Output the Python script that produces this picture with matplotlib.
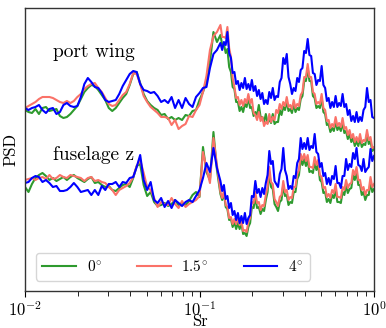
import matplotlib
matplotlib.use("Agg")
from matplotlib import pyplot as plt

plt.rcParams['font.family'] = 'serif'
plt.rcParams['font.serif'] = ['cmr10', 'DejaVu Serif']
plt.rcParams['mathtext.fontset'] = 'cm'
plt.rcParams['axes.formatter.use_mathtext'] = True

# Strouhal number grid
sr = [0.01000, 0.01047, 0.01096, 0.01148, 0.01202, 0.01259, 0.01318, 0.01380, 0.01445, 0.01514,
      0.01585, 0.01660, 0.01738, 0.01820, 0.01905, 0.01995, 0.02089, 0.02188, 0.02291, 0.02399,
      0.02512, 0.02630, 0.02754, 0.02884, 0.03020, 0.03162, 0.03311, 0.03467, 0.03631, 0.03802,
      0.03981, 0.04169, 0.04365, 0.04571, 0.04786, 0.05012, 0.05248, 0.05495, 0.05754, 0.06026,
      0.06310, 0.06607, 0.06918, 0.07244, 0.07586, 0.07943, 0.08318, 0.08710, 0.09120, 0.09550,
      0.1000, 0.1047, 0.1096, 0.1148, 0.1202, 0.1259, 0.1318, 0.1380, 0.1445, 0.1514,
      0.1585, 0.1660, 0.1738, 0.1820, 0.1905, 0.1995, 0.2089, 0.2188, 0.2291, 0.2399,
      0.2512, 0.2630, 0.2754, 0.2884, 0.3020, 0.3162, 0.3311, 0.3467, 0.3631, 0.3802,
      0.3981, 0.4169, 0.4365, 0.4571, 0.4786, 0.5012, 0.5248, 0.5495, 0.5754, 0.6026,
      0.6310, 0.6607, 0.6918, 0.7244, 0.7586, 0.7943, 0.8318, 0.8710, 0.9120, 0.9550,
      1.000]
# extra in-between bins at high Sr (spectra get noisy there)
sr_mid = [0.1349, 0.1413, 0.1479, 0.1549, 0.1622, 0.1698, 0.1778, 0.1862, 0.1950, 0.2042,
          0.2138, 0.2239, 0.2344, 0.2455, 0.2570, 0.2692, 0.2818, 0.2951, 0.3090, 0.3236,
          0.3388, 0.3548, 0.3715, 0.3890, 0.4074, 0.4266, 0.4467, 0.4677, 0.4898, 0.5129,
          0.5370, 0.5623, 0.5888, 0.6166, 0.6457, 0.6761, 0.7079, 0.7413, 0.7762, 0.8128,
          0.8511, 0.8913, 0.9333, 0.9772]

# PSD levels (arbitrary log units, the two signals stacked with an offset)
wing_0 = [190, 188, 187, 191, 186, 192, 193, 189, 190, 191, 184, 182, 183, 186, 190, 194, 201, 208, 212, 215,
          214, 210, 205, 200, 192, 189, 192, 197, 202, 206, 215, 226, 228, 217, 206, 199, 195, 192, 190, 185,
          186, 181, 183, 180, 182, 180, 185, 184, 189, 190, 200, 208, 218, 238, 268, 258, 265, 256, 251, 228,
          211, 198, 193, 196, 203, 193, 188, 195, 183, 186, 181, 186, 178, 190, 193, 199, 191, 196, 192, 201,
          219, 232, 219, 202, 194, 202, 186, 176, 172, 179, 173, 178, 169, 166, 162, 159, 162, 156, 166, 159,
          151]
wing_0_mid = [255, 247, 233, 213, 198, 189, 188, 193, 192, 184, 185, 183, 178, 177, 177, 176, 178, 185, 190, 189,
              187, 188, 190, 204, 219, 219, 204, 192, 192, 188, 175, 168, 169, 170, 169, 167, 161, 158, 154, 154,
              153, 155, 156, 149]
wing_15 = [192, 194, 196, 198, 201, 203, 203, 203, 202, 200, 198, 197, 199, 197, 199, 203, 206, 211, 214, 216,
           217, 212, 208, 202, 196, 194, 195, 200, 205, 208, 216, 227, 226, 216, 204, 198, 193, 190, 187, 183,
           183, 182, 175, 180, 171, 174, 176, 184, 183, 190, 195, 208, 224, 250, 264, 268, 275, 263, 273, 243,
           213, 203, 200, 201, 206, 201, 185, 188, 183, 178, 186, 183, 190, 196, 198, 203, 195, 200, 196, 205,
           223, 236, 223, 206, 198, 206, 190, 180, 176, 183, 177, 182, 173, 170, 166, 163, 166, 160, 170, 163,
           153]
wing_15_mid = [263, 262, 252, 222, 202, 195, 194, 197, 197, 187, 180, 179, 174, 176, 178, 180, 187, 191, 194, 193,
               191, 192, 194, 208, 223, 223, 208, 196, 196, 192, 179, 172, 173, 174, 173, 171, 165, 162, 158, 158,
               157, 159, 160, 152]
wing_4 = [192, 190, 192, 193, 195, 190, 187, 191, 192, 186, 188, 195, 197, 194, 193, 194, 203, 216, 222, 218,
          213, 212, 207, 200, 198, 199, 200, 206, 214, 220, 226, 229, 228, 216, 210, 209, 207, 208, 204, 198,
          200, 197, 203, 192, 200, 192, 202, 196, 193, 203, 207, 212, 213, 232, 246, 250, 257, 258, 268, 242,
          228, 219, 217, 222, 216, 220, 214, 210, 207, 200, 208, 212, 204, 218, 242, 246, 216, 212, 222, 230,
          249, 261, 244, 226, 220, 234, 212, 202, 198, 204, 197, 206, 196, 190, 184, 188, 183, 190, 212, 200,
          182]
wing_4_mid = [250, 255, 247, 227, 216, 210, 212, 211, 210, 209, 204, 201, 196, 196, 202, 200, 203, 222, 236, 223,
              206, 209, 218, 232, 247, 245, 227, 215, 219, 215, 199, 192, 193, 193, 194, 193, 185, 179, 178, 178,
              179, 193, 198, 183]

fus_0 = [113, 108, 116, 122, 125, 127, 124, 120, 122, 119, 121, 123, 120, 123, 125, 122, 120, 118, 121, 123,
         117, 118, 115, 113, 114, 110, 109, 112, 115, 116, 113, 122, 134, 136, 115, 104, 108, 98, 94, 95,
         97, 94, 96, 100, 95, 97, 95, 99, 105, 108, 103, 153, 128, 120, 168, 130, 106, 107, 91, 81,
         78, 77, 77, 67, 73, 93, 103, 93, 91, 100, 128, 111, 93, 98, 115, 105, 98, 108, 121, 142,
         141, 140, 129, 138, 135, 118, 108, 101, 105, 111, 98, 108, 115, 111, 125, 128, 115, 108, 105, 118,
         111]
fus_0_mid = [100, 93, 80, 73, 71, 71, 66, 64, 77, 92, 92, 86, 89, 108, 113, 96, 89, 100, 104, 95,
             97, 108, 125, 135, 134, 128, 127, 130, 120, 107, 98, 97, 102, 98, 97, 105, 107, 112, 120, 115,
             105, 100, 105, 108]
fus_15 = [120, 121, 122, 120, 122, 123, 121, 125, 121, 122, 125, 123, 122, 125, 124, 123, 122, 119, 122, 123,
          119, 120, 118, 117, 113, 110, 105, 110, 112, 114, 117, 123, 134, 140, 127, 113, 110, 102, 93, 98,
          96, 95, 102, 96, 92, 99, 93, 96, 98, 100, 104, 148, 132, 117, 162, 135, 108, 109, 93, 83,
          81, 83, 80, 70, 78, 98, 108, 98, 95, 105, 133, 116, 98, 103, 119, 110, 103, 113, 126, 146,
          146, 145, 133, 143, 140, 123, 113, 106, 110, 116, 103, 113, 120, 116, 130, 133, 120, 113, 110, 123,
          116]
fus_15_mid = [102, 95, 82, 76, 76, 75, 69, 68, 82, 97, 97, 90, 94, 113, 118, 101, 94, 105, 108, 100,
              102, 113, 130, 140, 139, 133, 132, 135, 125, 112, 103, 102, 107, 103, 102, 110, 112, 117, 125, 120,
              110, 105, 110, 113]
fus_4 = [117, 118, 122, 124, 123, 118, 120, 117, 113, 114, 109, 109, 110, 113, 117, 113, 108, 109, 110, 105,
         110, 105, 114, 110, 116, 116, 118, 113, 118, 117, 122, 123, 133, 145, 120, 110, 118, 100, 97, 102,
         93, 99, 92, 100, 97, 94, 98, 100, 98, 104, 110, 122, 137, 128, 152, 132, 119, 115, 104, 97,
         89, 87, 84, 87, 82, 104, 119, 111, 112, 117, 149, 139, 116, 126, 152, 124, 114, 124, 137, 162,
         157, 162, 154, 166, 146, 137, 127, 122, 124, 134, 117, 124, 141, 136, 147, 152, 134, 141, 131, 151,
         144]
fus_4_mid = [109, 101, 92, 85, 80, 77, 77, 76, 85, 103, 107, 103, 106, 125, 136, 119, 113, 131, 130, 111,
             111, 122, 141, 151, 151, 150, 152, 148, 133, 124, 116, 115, 121, 117, 112, 124, 130, 133, 141, 135,
             129, 128, 133, 139]

labels = [r'$0^{\!\circ}$', r'$1.5^{\!\circ}$', r'$4^{\!\circ}$']
colors = ['#2e9a2e', '#fa7268', '#0000ff']


def merge(vals, mids):
    pts = sorted(zip(sr + sr_mid, vals + mids))
    return [p[0] for p in pts], [p[1] for p in pts]


fig = plt.figure(figsize=(3.86, 3.28), dpi=100)
ax = fig.add_axes([0.0648, 0.1128, 0.9041, 0.8628])

series = [(wing_0, wing_0_mid, fus_0, fus_0_mid),
          (wing_15, wing_15_mid, fus_15, fus_15_mid),
          (wing_4, wing_4_mid, fus_4, fus_4_mid)]
for (w, wm, f, fm), lab, c in zip(series, labels, colors):
    x, y = merge(w, wm)
    ax.plot(x, y, color=c, lw=1.5, label=lab)
    x, y = merge(f, fm)
    ax.plot(x, y, color=c, lw=1.5)

ax.set_xscale('log')
ax.set_xlim(1e-2, 1e0)
ax.set_ylim(9, 292)
ax.set_yticks([])
ax.tick_params(axis='x', which='major', direction='out', length=4.5, labelsize=12, pad=2)
ax.tick_params(axis='x', which='minor', direction='out', length=3.5)
for s in ax.spines.values():
    s.set_color('#333333')
    s.set_linewidth(1.0)

ax.set_xlabel('Sr', fontsize=12, labelpad=-4)
ax.set_ylabel('PSD', fontsize=12, labelpad=5)

ax.text(0.08, 0.845, 'port wing', transform=ax.transAxes, fontsize=14, va='center')
ax.text(0.08, 0.48, 'fuselage z', transform=ax.transAxes, fontsize=14, va='center')

ax.legend(loc='lower left', ncol=3, fontsize=11, handlelength=2.2, handletextpad=0.7,
          columnspacing=2.3, bbox_to_anchor=(0.01, 0.01), frameon=True, fancybox=True,
          edgecolor='#cccccc')

fig.savefig('out.png', dpi=100)
